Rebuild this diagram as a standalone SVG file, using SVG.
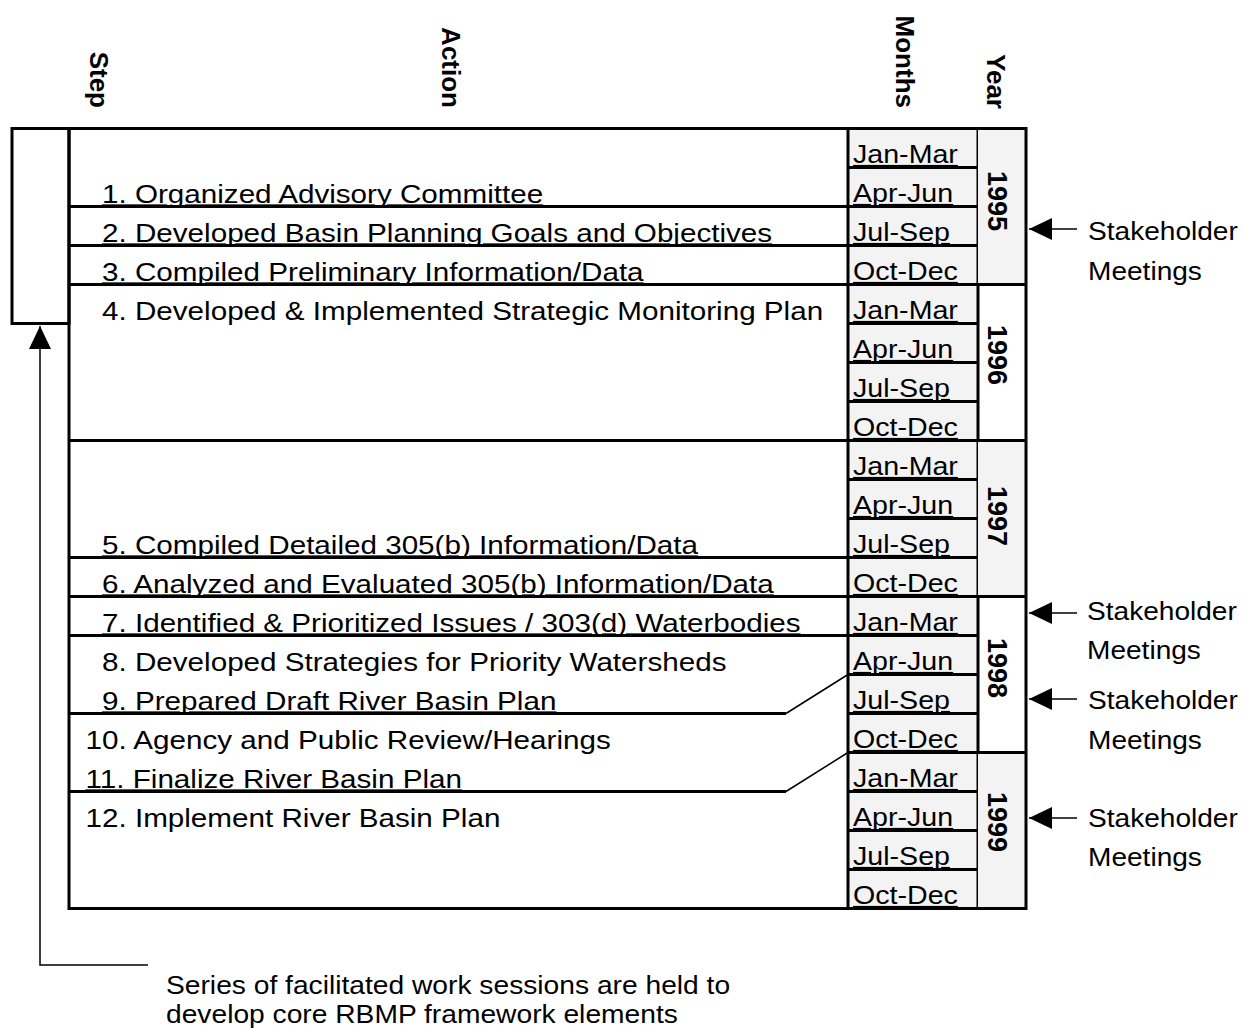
<svg xmlns="http://www.w3.org/2000/svg" width="1243" height="1028" viewBox="0 0 1243 1028">
<style>
.t{font-family:"Liberation Sans",Arial,Helvetica,sans-serif;font-size:26px;fill:#000}
.b{font-weight:bold}
.u{text-decoration:underline}
.ln{stroke:#000;stroke-width:3;fill:none}
.thin{stroke:#000;stroke-width:1.5;fill:none}
.grey{fill:#f3f3f3}
</style>
<defs>
<marker id="ah" markerUnits="userSpaceOnUse" markerWidth="23" markerHeight="22" viewBox="0 0 23 22" refX="23" refY="11" orient="auto"><path d="M0,0 L23,11 L0,22 Z" fill="#000"/></marker>
</defs>
<rect width="1243" height="1028" fill="#fff"/>

<g id="headers">
<text class="t b" text-anchor="end" transform="matrix(0 1 -1 0 90 108)">Step</text>
<text class="t b" text-anchor="end" transform="matrix(0 1 -1 0 442 108)">Action</text>
<text class="t b" text-anchor="end" transform="matrix(0 1 -1 0 896 108)">Months</text>
<text class="t b" text-anchor="end" transform="matrix(0 1 -1 0 987 109)">Year</text>
</g>

<g id="step-box">
<rect class="ln" x="12" y="128.5" width="57" height="195"/>
</g>

<g id="months">
<rect class="grey" x="848" y="128.5" width="130" height="780"/>
<path class="ln" d="M848,167.5H978M848,206.5H978M848,245.5H978M848,284.5H978M848,323.5H978M848,362.5H978M848,401.5H978M848,440.5H978M848,479.5H978M848,518.5H978M848,557.5H978M848,596.5H978M848,635.5H978M848,674.5H978M848,713.5H978M848,752.5H978M848,791.5H978M848,830.5H978M848,869.5H978M848,128.5V908.5M978,128.5V908.5"/>
<g class="t u">
<text transform="matrix(1.1 0 0 1 853 163)">Jan-Mar</text>
<text transform="matrix(1.1 0 0 1 853 202)">Apr-Jun</text>
<text transform="matrix(1.1 0 0 1 853 241)">Jul-Sep</text>
<text transform="matrix(1.1 0 0 1 853 280)">Oct-Dec</text>
<text transform="matrix(1.1 0 0 1 853 319)">Jan-Mar</text>
<text transform="matrix(1.1 0 0 1 853 358)">Apr-Jun</text>
<text transform="matrix(1.1 0 0 1 853 397)">Jul-Sep</text>
<text transform="matrix(1.1 0 0 1 853 436)">Oct-Dec</text>
<text transform="matrix(1.1 0 0 1 853 475)">Jan-Mar</text>
<text transform="matrix(1.1 0 0 1 853 514)">Apr-Jun</text>
<text transform="matrix(1.1 0 0 1 853 553)">Jul-Sep</text>
<text transform="matrix(1.1 0 0 1 853 592)">Oct-Dec</text>
<text transform="matrix(1.1 0 0 1 853 631)">Jan-Mar</text>
<text transform="matrix(1.1 0 0 1 853 670)">Apr-Jun</text>
<text transform="matrix(1.1 0 0 1 853 709)">Jul-Sep</text>
<text transform="matrix(1.1 0 0 1 853 748)">Oct-Dec</text>
<text transform="matrix(1.1 0 0 1 853 787)">Jan-Mar</text>
<text transform="matrix(1.1 0 0 1 853 826)">Apr-Jun</text>
<text transform="matrix(1.1 0 0 1 853 865)">Jul-Sep</text>
<text transform="matrix(1.1 0 0 1 853 904)">Oct-Dec</text>
</g>
</g>

<g id="years">
<rect class="grey" x="978" y="128.5" width="48" height="156"/>
<rect class="grey" x="978" y="440.5" width="48" height="156"/>
<rect class="grey" x="978" y="752.5" width="48" height="156"/>
<path class="ln" d="M978,284.5H1026M978,440.5H1026M978,596.5H1026M978,752.5H1026"/>
<g class="t b" text-anchor="middle" style="font-size:27px">
<text transform="matrix(0 1 -1 0 988 201)">1995</text>
<text transform="matrix(0 1 -1 0 988 355)">1996</text>
<text transform="matrix(0 1 -1 0 988 516)">1997</text>
<text transform="matrix(0 1 -1 0 988 668)">1998</text>
<text transform="matrix(0 1 -1 0 988 822)">1999</text>
</g>
</g>

<g id="actions">
<path class="ln" d="M69,206.5H848M69,245.5H848M69,284.5H848M69,440.5H848M69,557.5H848M69,596.5H848M69,635.5H848M69,713.5H786M69,791.5H786"/>
<path class="thin" d="M786,713.5L848,674.5M786,791.5L848,752.5"/>
<g class="t">
<text class="u" transform="matrix(1.14 0 0 1 102 202.5)">1. Organized Advisory Committee</text>
<text class="u" transform="matrix(1.14 0 0 1 102 241.5)">2. Developed Basin Planning Goals and Objectives</text>
<text class="u" transform="matrix(1.14 0 0 1 102 280.5)">3. Compiled Preliminary Information/Data</text>
<text transform="matrix(1.14 0 0 1 102 319.5)">4. Developed &amp; Implemented Strategic Monitoring Plan</text>
<text class="u" transform="matrix(1.14 0 0 1 102 553.5)">5. Compiled Detailed 305(b) Information/Data</text>
<text class="u" transform="matrix(1.14 0 0 1 102 592.5)">6. Analyzed and Evaluated 305(b) Information/Data</text>
<text class="u" transform="matrix(1.14 0 0 1 102 631.5)">7. Identified &amp; Prioritized Issues / 303(d) Waterbodies</text>
<text transform="matrix(1.14 0 0 1 102 670.5)">8. Developed Strategies for Priority Watersheds</text>
<text class="u" transform="matrix(1.14 0 0 1 102 709.5)">9. Prepared Draft River Basin Plan</text>
<text transform="matrix(1.14 0 0 1 85.5 748.5)">10. Agency and Public Review/Hearings</text>
<text class="u" transform="matrix(1.14 0 0 1 85.5 787.5)">11. Finalize River Basin Plan</text>
<text transform="matrix(1.14 0 0 1 85.5 826.5)">12. Implement River Basin Plan</text>
</g>
</g>

<g id="table-frame">
<rect class="ln" x="69" y="128.5" width="957" height="780"/>
</g>

<g id="stakeholder-notes" class="t">
<text transform="matrix(1.08 0 0 1 1088 240)">Stakeholder</text>
<text transform="matrix(1.08 0 0 1 1088 280)">Meetings</text>
<text transform="matrix(1.08 0 0 1 1087 620)">Stakeholder</text>
<text transform="matrix(1.08 0 0 1 1087 659)">Meetings</text>
<text transform="matrix(1.08 0 0 1 1088 709)">Stakeholder</text>
<text transform="matrix(1.08 0 0 1 1088 749)">Meetings</text>
<text transform="matrix(1.08 0 0 1 1088 827)">Stakeholder</text>
<text transform="matrix(1.08 0 0 1 1088 866)">Meetings</text>
</g>

<g id="work-sessions-note" class="t">
<text transform="matrix(1.085 0 0 1 166 994)">Series of facilitated work sessions are held to</text>
<text transform="matrix(1.085 0 0 1 166 1023)">develop core RBMP framework elements</text>
</g>

<g id="connectors">
<path class="thin" marker-end="url(#ah)" d="M1077,229H1029"/>
<path class="thin" marker-end="url(#ah)" d="M1077,613H1029"/>
<path class="thin" marker-end="url(#ah)" d="M1077,699H1029"/>
<path class="thin" marker-end="url(#ah)" d="M1077,818H1029"/>
<path class="thin" marker-end="url(#ah)" d="M148,965H40V326"/>
</g>
</svg>
